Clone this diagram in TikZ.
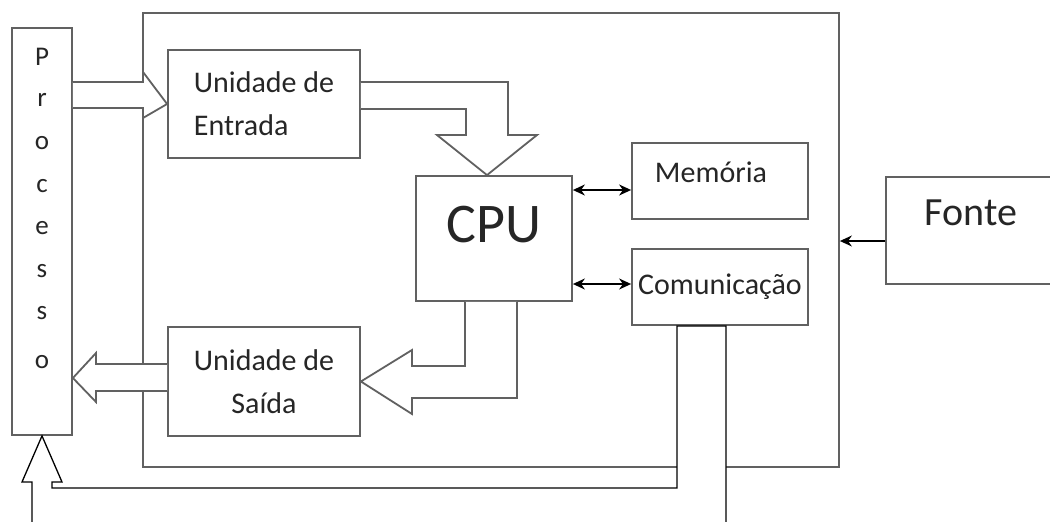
\documentclass[tikz,border=0pt]{standalone}
\usepackage{fontspec}
\setmainfont{Carlito}
\usetikzlibrary{arrows.meta,calc}

\begin{document}
\begin{tikzpicture}[
    x=1pt,y=-1pt,
    box/.style={draw=black!62,line width=1.8pt,fill=white,inner sep=0pt},
    blk/.style={draw=black!62,line width=1.8pt,fill=white,line join=miter},
    con/.style={line width=1.3pt,black},
    tip/.style={-{Stealth[length=12pt,width=11pt]}},
    dbl/.style={{Stealth[length=12pt,width=11pt]}-{Stealth[length=12pt,width=11pt]},line width=1.6pt},
    txt/.style={font=\fontsize{30}{43}\selectfont,text=black!85}
  ]
    \clip (0,0) rectangle (1050,522);
    \fill[white] (0,0) rectangle (1050,522);
    % outer system and process column
    \node[box,minimum width=696pt,minimum height=454pt] (sys) at (491,240) {};
    \node[box,minimum width=60pt,minimum height=407pt] (proc) at (42,231.5) {};
    \foreach \c/\y [count=\i] in {P/57,r/100,o/143,c/186,e/228,s/271,s/313,o/362}
      {\node[txt,font=\fontsize{27}{27}\selectfont] (p\i) at (42,\y) {\c};}
    % units
    \node[box,txt,minimum width=192pt,minimum height=108pt,align=left] (ent) at (264,104) {Unidade de\\Entrada};
    \node[box,txt,minimum width=192pt,minimum height=109pt,align=center] (sai) at (264,381.5) {Unidade de\\Saída};
    \node[box,minimum width=156pt,minimum height=125pt] (cpu) at (494,238.5) {};
    \node[txt,font=\fontsize{56}{56}\selectfont] (cpul) at (494,225) {CPU};
    \node[box,minimum width=176pt,minimum height=76pt] (mem) at (720,181) {};
    \node[txt] (meml) at (711,172) {Memória};
    \node[box,txt,minimum width=176pt,minimum height=76pt] (com) at (720,287) {Comunicação};
    \node[box,minimum width=166pt,minimum height=107pt] (fonte) at (969,230.5) {};
    \node[txt,font=\fontsize{40}{40}\selectfont] (fontel) at (971,213) {Fonte};
    % block arrows
    \draw[blk] (proc.east |- 0,82) -- (143,82) -- (143,72) -- (ent.west) -- (143,118) -- (143,108) -- (proc.east |- 0,108);
    \draw[blk] (ent.east |- 0,82) -- (508,82) -- (508,135) -- (537,135) -- (cpu.north -| 487,0) -- (437,135) -- (466,135) -- (466,109) -- (ent.east |- 0,109);
    \draw[blk] (cpu.south -| 465,0) -- (465,366) -- (412,366) -- (412,350) -- (sai.east) -- (412,414) -- (412,398) -- (517,398) -- (cpu.south -| 517,0);
    \draw[blk] (sai.west |- 0,364) -- (96,364) -- (96,353) -- (proc.east |- 0,378) -- (96,402) -- (96,391) -- (sai.west |- 0,391);
    % buses
    \draw[dbl] (cpu.east |- 0,190) -- (mem.west |- 0,190);
    \draw[dbl] (cpu.east |- 0,284) -- (com.west |- 0,284);
    \draw[con,tip] (fonte.west |- 0,241) -- (sys.east |- 0,241);
    \filldraw[con,fill=white] (com.south -| 677,0) -- (com.south -| 726,0) -- (726,530) -- (32,530) -- (32,482) -- (22,482) -- (proc.south) -- (62,482) -- (52,482) -- (52,488) -- (677,488) -- cycle;
\end{tikzpicture}
\end{document}
